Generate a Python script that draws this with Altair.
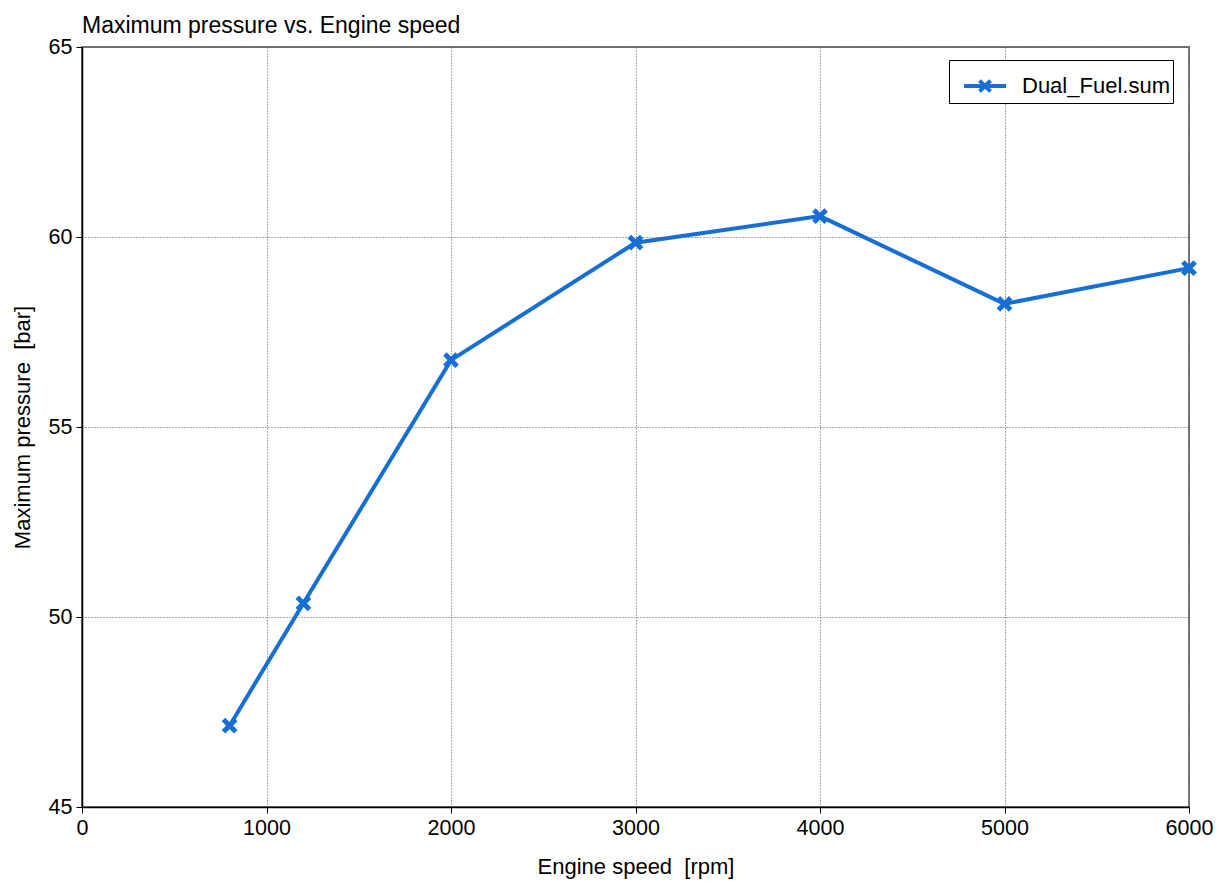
import altair as alt
import pandas as pd

# Engine speed sweep and the peak cylinder pressure at each point
speed_rpm = [800, 1200, 2000, 3000, 4000, 5000, 6000]
max_pressure_bar = [47.14, 50.36, 56.76, 59.85, 60.55, 58.24, 59.18]
series_name = ["Dual_Fuel.sum"] * len(speed_rpm)

x_ticks = [0, 1000, 2000, 3000, 4000, 5000, 6000]
y_ticks = [45, 50, 55, 60, 65]

df = pd.DataFrame({"speed": speed_rpm, "pmax": max_pressure_bar, "case": series_name})

FONT = "Liberation Sans"
BLUE = "#176fd6"

# diagonal cross used as the point marker
X_PATH = "M-1,-1L1,1M-1,1L1,-1"
# legend swatch: a short line with the cross in the middle
LEGEND_PATH = "M-1,0L1,0M-0.26,-0.26L0.26,0.26M-0.26,0.26L0.26,-0.26"

x_enc = alt.X(
    "speed:Q",
    scale=alt.Scale(domain=[0, 6000], nice=False, zero=False),
    axis=alt.Axis(
        values=x_ticks,
        title="Engine speed\u00a0 [rpm]",
        format="d",
        labelFlush=False,
        titlePadding=18,
    ),
)
y_enc = alt.Y(
    "pmax:Q",
    scale=alt.Scale(domain=[45, 65], nice=False, zero=False),
    axis=alt.Axis(
        values=y_ticks,
        title="Maximum pressure\u00a0 [bar]",
        labelFlush=False,
        titlePadding=14,
    ),
)

line = alt.Chart(df).mark_line(strokeWidth=4).encode(
    x=x_enc,
    y=y_enc,
    color=alt.Color(
        "case:N",
        scale=alt.Scale(domain=["Dual_Fuel.sum"], range=[BLUE]),
        legend=alt.Legend(
            title=None,
            orient="none",
            legendX=867,
            legendY=13,
            symbolType=LEGEND_PATH,
            symbolSize=1764,
            symbolStrokeWidth=4,
            symbolFillColor="transparent",
            symbolOffset=10,
            labelFont=FONT,
            labelFontSize=22,
            labelColor="black",
            labelOffset=14,
            strokeColor="black",
            fillColor="white",
            padding=3,
        ),
    ),
)

points = alt.Chart(df).mark_point(
    shape=X_PATH, size=150, strokeWidth=5, color=BLUE, filled=False, opacity=1
).encode(x="speed:Q", y="pmax:Q")

chart = (
    alt.layer(line, points)
    .properties(
        width=1107,
        height=760,
        background="white",
        title=alt.TitleParams(
            "Maximum pressure vs. Engine speed",
            anchor="start",
            frame="group",
            font=FONT,
            fontSize=23,
            fontWeight="normal",
            color="black",
            offset=-2,
        ),
        autosize=alt.AutoSizeParams(type="none"),
        padding={"left": 82, "top": 47, "right": 35, "bottom": 74},
    )
    .configure_view(stroke="#777777", strokeWidth=2)
    .configure_axis(
        labelFont=FONT,
        labelFontSize=21.5,
        labelColor="black",
        titleFont=FONT,
        titleFontSize=22,
        titleFontWeight="normal",
        titleColor="black",
        domainColor="black",
        domainWidth=1.5,
        tickColor="black",
        tickSize=6,
        gridColor="#555555",
        gridDash=[1, 2],
        gridWidth=1,
        labelPadding=4,
    )
)

chart.save("out.html", embed_options={"renderer": "svg", "actions": False})
